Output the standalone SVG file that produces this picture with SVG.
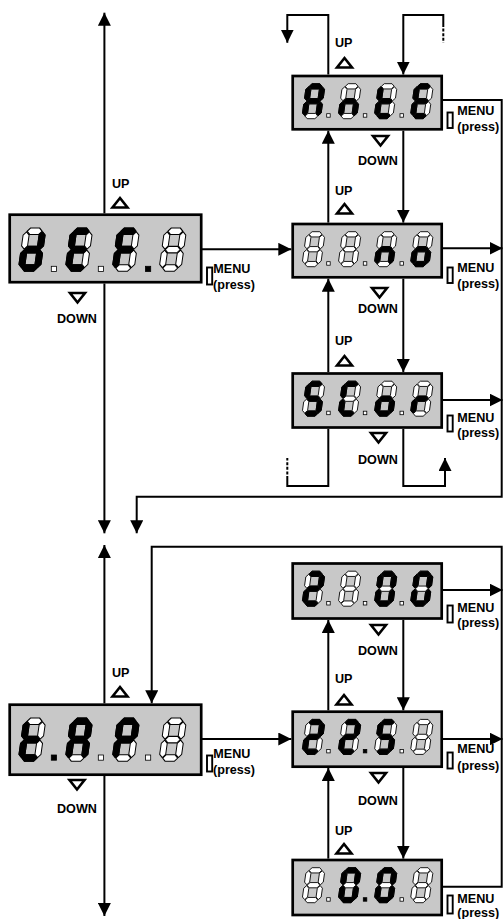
<svg xmlns="http://www.w3.org/2000/svg" width="504" height="919" viewBox="0 0 504 919">
<style>
.box{fill:#c8c8c8;stroke:#000;stroke-width:2.7}
.off{fill:#fff;stroke:#000;stroke-width:1;stroke-linejoin:round}
.on{fill:#000;stroke:#000;stroke-width:1;stroke-linejoin:round}
.dpoff{fill:#fff;stroke:#000;stroke-width:0.8}
.dpon{fill:#000;stroke:#000;stroke-width:0.8}
.ln{fill:none;stroke:#000;stroke-width:2}
.dash{fill:none;stroke:#000;stroke-width:2;stroke-dasharray:3 1.6}
.tri{fill:#fff;stroke:#000;stroke-width:2.6;stroke-linejoin:miter}
.btn{fill:#fff;stroke:#000;stroke-width:1.9}
text{font-family:"Liberation Sans",Arial,sans-serif;font-weight:bold;font-size:12.6px;fill:#000}
</style>
<defs>
<marker id="ah" markerUnits="userSpaceOnUse" markerWidth="14" markerHeight="13" refX="13" refY="6.5" orient="auto" viewBox="0 0 14 13"><path d="M0,0 L13,6.5 L0,13 Z" fill="#000"/></marker>
<polygon id="sa" points="3.5,3 6.5,0 15.5,0 18.5,3 15.5,6 6.5,6"/>
<polygon id="sg" points="3.5,20 6.5,17 15.5,17 18.5,20 15.5,23 6.5,23"/>
<polygon id="sd" points="3.5,37 6.5,34 15.5,34 18.5,37 15.5,40 6.5,40"/>
<polygon id="sf" points="3,3.5 6,6.5 6,16.5 3,19.5 0,16.5 0,6.5"/>
<polygon id="sb" points="19,3.5 22,6.5 22,16.5 19,19.5 16,16.5 16,6.5"/>
<polygon id="se" points="3,20.5 6,23.5 6,33.5 3,36.5 0,33.5 0,23.5"/>
<polygon id="sc" points="19,20.5 22,23.5 22,33.5 19,36.5 16,33.5 16,23.5"/>
<g id="c8" class="off"><use href="#sa"/><use href="#sb"/><use href="#sc"/><use href="#sd"/><use href="#se"/><use href="#sf"/><use href="#sg"/></g>
<g id="kA"><use href="#c8"/><g class="on"><use href="#sa"/><use href="#sb"/><use href="#sc"/><use href="#se"/><use href="#sf"/><use href="#sg"/></g></g>
<g id="kn"><use href="#c8"/><g class="on"><use href="#sc"/><use href="#se"/><use href="#sg"/></g></g>
<g id="kt"><use href="#c8"/><g class="on"><use href="#sd"/><use href="#se"/><use href="#sf"/><use href="#sg"/></g></g>
<g id="kE"><use href="#c8"/><g class="on"><use href="#sa"/><use href="#sd"/><use href="#se"/><use href="#sf"/><use href="#sg"/></g></g>
<g id="ko"><use href="#c8"/><g class="on"><use href="#sc"/><use href="#sd"/><use href="#se"/><use href="#sg"/></g></g>
<g id="kS"><use href="#c8"/><g class="on"><use href="#sa"/><use href="#sc"/><use href="#sd"/><use href="#sf"/><use href="#sg"/></g></g>
<g id="kC"><use href="#c8"/><g class="on"><use href="#sa"/><use href="#sd"/><use href="#se"/><use href="#sf"/></g></g>
<g id="kr"><use href="#c8"/><g class="on"><use href="#se"/><use href="#sg"/></g></g>
<g id="k2"><use href="#c8"/><g class="on"><use href="#sa"/><use href="#sb"/><use href="#sd"/><use href="#se"/><use href="#sg"/></g></g>
<g id="k0"><use href="#c8"/><g class="on"><use href="#sa"/><use href="#sb"/><use href="#sc"/><use href="#sd"/><use href="#se"/><use href="#sf"/></g></g>
<g id="kd"><use href="#c8"/><g class="on"><use href="#sb"/><use href="#sc"/><use href="#sd"/><use href="#se"/><use href="#sg"/></g></g>
<g id="kF"><use href="#c8"/><g class="on"><use href="#sa"/><use href="#se"/><use href="#sf"/><use href="#sg"/></g></g>
<g id="kP"><use href="#c8"/><g class="on"><use href="#sa"/><use href="#sb"/><use href="#se"/><use href="#sf"/><use href="#sg"/></g></g>
<polygon id="tu" points="0,0 7.5,9.5 -7.5,9.5"/>
<polygon id="td" points="-7.5,0 7.5,0 0,9.5"/>
</defs>
<rect width="504" height="919" fill="#fff"/>

<g id="connectors">
<path class="ln" d="M104.4,213.4 V12.7" marker-end="url(#ah)"/>
<path class="ln" d="M104.4,283.5 V533.3" marker-end="url(#ah)"/>
<path class="ln" d="M104.4,703.4 V545" marker-end="url(#ah)"/>
<path class="ln" d="M104.4,776 V916" marker-end="url(#ah)"/>
<path class="ln" d="M201,249.3 H291.3" marker-end="url(#ah)"/>
<path class="ln" d="M441.5,100 H501.7 V496.7 H136.7 V533.3" marker-end="url(#ah)"/>
<path class="ln" d="M441.5,248.3 H502.5" marker-end="url(#ah)"/>
<path class="ln" d="M441.5,400 H502.5" marker-end="url(#ah)"/>
<path class="ln" d="M328.3,74.6 V15 H287.3 V42.7" marker-end="url(#ah)"/>
<path class="ln" d="M443.3,24 V15 H403.3 V74.6" marker-end="url(#ah)"/>
<path class="dash" d="M443.3,24 V42.7"/>
<path class="ln" d="M328.3,222.6 V130.7" marker-end="url(#ah)"/>
<path class="ln" d="M403.3,130.7 V222.6" marker-end="url(#ah)"/>
<path class="ln" d="M328.3,372.1 V278.7" marker-end="url(#ah)"/>
<path class="ln" d="M403.3,278.7 V372.1" marker-end="url(#ah)"/>
<path class="ln" d="M328.3,428.9 V486 H287.3 V479"/>
<path class="dash" d="M287.3,479 V458"/>
<path class="ln" d="M403.3,428.9 V486 H445 V458" marker-end="url(#ah)"/>
<path class="ln" d="M441.5,886.7 H501.7 V546.7 H151.7 V703.3" marker-end="url(#ah)"/>
<path class="ln" d="M201,739 H291.3" marker-end="url(#ah)"/>
<path class="ln" d="M441.5,590 H502.5" marker-end="url(#ah)"/>
<path class="ln" d="M441.5,739 H502.5" marker-end="url(#ah)"/>
<path class="ln" d="M328.3,710.3 V619.9" marker-end="url(#ah)"/>
<path class="ln" d="M403.3,619.9 V710.3" marker-end="url(#ah)"/>
<path class="ln" d="M328.3,858.6 V768" marker-end="url(#ah)"/>
<path class="ln" d="M403.3,768 V858.6" marker-end="url(#ah)"/>
</g>

<g id="labels">
<text x="335" y="47">UP</text><use href="#tu" class="tri" x="344.5" y="58"/>
<use href="#td" class="tri" x="380.5" y="136"/><text x="358" y="165">DOWN</text>
<text x="335" y="195">UP</text><use href="#tu" class="tri" x="344.5" y="204"/>
<use href="#td" class="tri" x="379.5" y="288"/><text x="358" y="313">DOWN</text>
<text x="335" y="345">UP</text><use href="#tu" class="tri" x="344.5" y="356"/>
<use href="#td" class="tri" x="378.5" y="433"/><text x="358" y="464">DOWN</text>
<use href="#td" class="tri" x="378.5" y="625"/><text x="358" y="655">DOWN</text>
<text x="335" y="683">UP</text><use href="#tu" class="tri" x="344" y="695"/>
<use href="#td" class="tri" x="378.5" y="773"/><text x="358" y="805">DOWN</text>
<text x="335" y="835">UP</text><use href="#tu" class="tri" x="344" y="844"/>
<text x="112" y="188">UP</text><use href="#tu" class="tri" x="120" y="198"/>
<use href="#td" class="tri" x="77.5" y="293"/><text x="57" y="323">DOWN</text>
<text x="112" y="677">UP</text><use href="#tu" class="tri" x="120" y="687"/>
<use href="#td" class="tri" x="77" y="780"/><text x="57" y="813">DOWN</text>
</g>

<g id="node-dEFU">
<rect class="box" x="9.7" y="214.7" width="191.5" height="67.5"/>
<use href="#kd" transform="translate(24.1,228) skewX(-8) scale(1,1.083)"/>
<use href="#kE" transform="translate(71,228) skewX(-8) scale(1,1.083)"/>
<use href="#kF" transform="translate(117.9,228) skewX(-8) scale(1,1.083)"/>
<use href="#c8" transform="translate(164.8,228) skewX(-8) scale(1,1.083)"/>
<rect class="dpoff" x="51.3" y="266.3" width="5.2" height="5.2"/>
<rect class="dpoff" x="98.3" y="266.3" width="5.2" height="5.2"/>
<rect class="dpon" x="145.5" y="266.3" width="5.2" height="5.2"/>
<rect class="btn" x="207" y="267.5" width="5.2" height="17"/>
<text x="213.3" y="273">MENU</text><text x="213" y="289">(press)</text>
</g>

<g id="node-AntE">
<rect class="box" x="292.7" y="76" width="149" height="53.3"/>
<use href="#kA" transform="translate(306.6,83.7) skewX(-8) scale(0.85,0.875)"/>
<use href="#kn" transform="translate(342.7,83.7) skewX(-8) scale(0.85,0.875)"/>
<use href="#kt" transform="translate(378.8,83.7) skewX(-8) scale(0.85,0.875)"/>
<use href="#kE" transform="translate(414.9,83.7) skewX(-8) scale(0.85,0.875)"/>
<rect class="dpoff" x="326.7" y="113.7" width="3.5" height="3.5"/>
<rect class="dpoff" x="363.3" y="113.7" width="3.5" height="3.5"/>
<rect class="dpoff" x="400" y="113.7" width="3.5" height="3.5"/>
<rect class="btn" x="447.5" y="112.5" width="5.2" height="15.5"/>
<text x="457.3" y="115">MENU</text><text x="457.3" y="130.5">(press)</text>
</g>

<g id="node-no">
<rect class="box" x="292.7" y="224" width="149" height="53.3"/>
<use href="#c8" transform="translate(306.6,231.7) skewX(-8) scale(0.85,0.875)"/>
<use href="#c8" transform="translate(342.7,231.7) skewX(-8) scale(0.85,0.875)"/>
<use href="#kn" transform="translate(378.8,231.7) skewX(-8) scale(0.85,0.875)"/>
<use href="#ko" transform="translate(414.9,231.7) skewX(-8) scale(0.85,0.875)"/>
<rect class="dpoff" x="326.7" y="261.7" width="3.5" height="3.5"/>
<rect class="dpoff" x="363.3" y="261.7" width="3.5" height="3.5"/>
<rect class="dpoff" x="400" y="261.7" width="3.5" height="3.5"/>
<rect class="btn" x="447.5" y="267.5" width="5.2" height="15.5"/>
<text x="457.3" y="271.7">MENU</text><text x="457.3" y="288">(press)</text>
</g>

<g id="node-SCor">
<rect class="box" x="292.7" y="373.5" width="149" height="54"/>
<use href="#kS" transform="translate(306.6,381.2) skewX(-8) scale(0.85,0.875)"/>
<use href="#kC" transform="translate(342.7,381.2) skewX(-8) scale(0.85,0.875)"/>
<use href="#ko" transform="translate(378.8,381.2) skewX(-8) scale(0.85,0.875)"/>
<use href="#kr" transform="translate(414.9,381.2) skewX(-8) scale(0.85,0.875)"/>
<rect class="dpoff" x="326.7" y="411.2" width="3.5" height="3.5"/>
<rect class="dpoff" x="363.3" y="411.2" width="3.5" height="3.5"/>
<rect class="dpoff" x="400" y="411.2" width="3.5" height="3.5"/>
<rect class="btn" x="447.5" y="415.5" width="5.2" height="16"/>
<text x="457.3" y="421.7">MENU</text><text x="457.3" y="437">(press)</text>
</g>

<g id="node-TAP">
<rect class="box" x="9.7" y="704.7" width="191.5" height="70"/>
<use href="#kt" transform="translate(24.1,718) skewX(-8) scale(1,1.083)"/>
<use href="#kA" transform="translate(71,718) skewX(-8) scale(1,1.083)"/>
<use href="#kP" transform="translate(117.9,718) skewX(-8) scale(1,1.083)"/>
<use href="#c8" transform="translate(164.8,718) skewX(-8) scale(1,1.083)"/>
<rect class="dpon" x="51.3" y="755" width="5.2" height="5.2"/>
<rect class="dpoff" x="98.3" y="755" width="5.2" height="5.2"/>
<rect class="dpoff" x="145.5" y="755" width="5.2" height="5.2"/>
<rect class="btn" x="207" y="755.5" width="5.2" height="16"/>
<text x="213.3" y="758">MENU</text><text x="213" y="773.5">(press)</text>
</g>

<g id="node-2100">
<rect class="box" x="292.7" y="563.5" width="149" height="55"/>
<use href="#k2" transform="translate(306.6,571.2) skewX(-8) scale(0.85,0.875)"/>
<use href="#c8" transform="translate(342.7,571.2) skewX(-8) scale(0.85,0.875)"/>
<use href="#k0" transform="translate(378.8,571.2) skewX(-8) scale(0.85,0.875)"/>
<use href="#k0" transform="translate(414.9,571.2) skewX(-8) scale(0.85,0.875)"/>
<rect class="dpoff" x="326.7" y="601.5" width="3.5" height="3.5"/>
<rect class="dpoff" x="363.3" y="601.5" width="3.5" height="3.5"/>
<rect class="dpoff" x="400" y="601.5" width="3.5" height="3.5"/>
<rect class="btn" x="447.5" y="605.5" width="5.2" height="17"/>
<text x="457.3" y="611.7">MENU</text><text x="457.3" y="627">(press)</text>
</g>

<g id="node-2250">
<rect class="box" x="292.7" y="711.7" width="149" height="55"/>
<use href="#k2" transform="translate(306.6,719.4) skewX(-8) scale(0.85,0.875)"/>
<use href="#k2" transform="translate(342.7,719.4) skewX(-8) scale(0.85,0.875)"/>
<use href="#kS" transform="translate(378.8,719.4) skewX(-8) scale(0.85,0.875)"/>
<use href="#c8" transform="translate(414.9,719.4) skewX(-8) scale(0.85,0.875)"/>
<rect class="dpoff" x="326.7" y="749.4" width="3.5" height="3.5"/>
<rect class="dpon" x="363.3" y="749.4" width="3.5" height="3.5"/>
<rect class="dpoff" x="400" y="749.4" width="3.5" height="3.5"/>
<rect class="btn" x="447.5" y="752.5" width="5.2" height="16"/>
<text x="457.3" y="753.3">MENU</text><text x="457.3" y="770">(press)</text>
</g>

<g id="node-8001">
<rect class="box" x="292.7" y="860" width="149" height="55"/>
<use href="#c8" transform="translate(306.6,867.7) skewX(-8) scale(0.85,0.875)"/>
<use href="#k0" transform="translate(342.7,867.7) skewX(-8) scale(0.85,0.875)"/>
<use href="#k0" transform="translate(378.8,867.7) skewX(-8) scale(0.85,0.875)"/>
<use href="#c8" transform="translate(414.9,867.7) skewX(-8) scale(0.85,0.875)"/>
<rect class="dpoff" x="326.7" y="897.7" width="3.5" height="3.5"/>
<rect class="dpon" x="363.3" y="897.7" width="3.5" height="3.5"/>
<rect class="dpoff" x="400" y="897.7" width="3.5" height="3.5"/>
<rect class="btn" x="447.5" y="895.5" width="5.2" height="18"/>
<text x="457.3" y="903">MENU</text><text x="457.3" y="916.5">(press)</text>
</g>
</svg>
